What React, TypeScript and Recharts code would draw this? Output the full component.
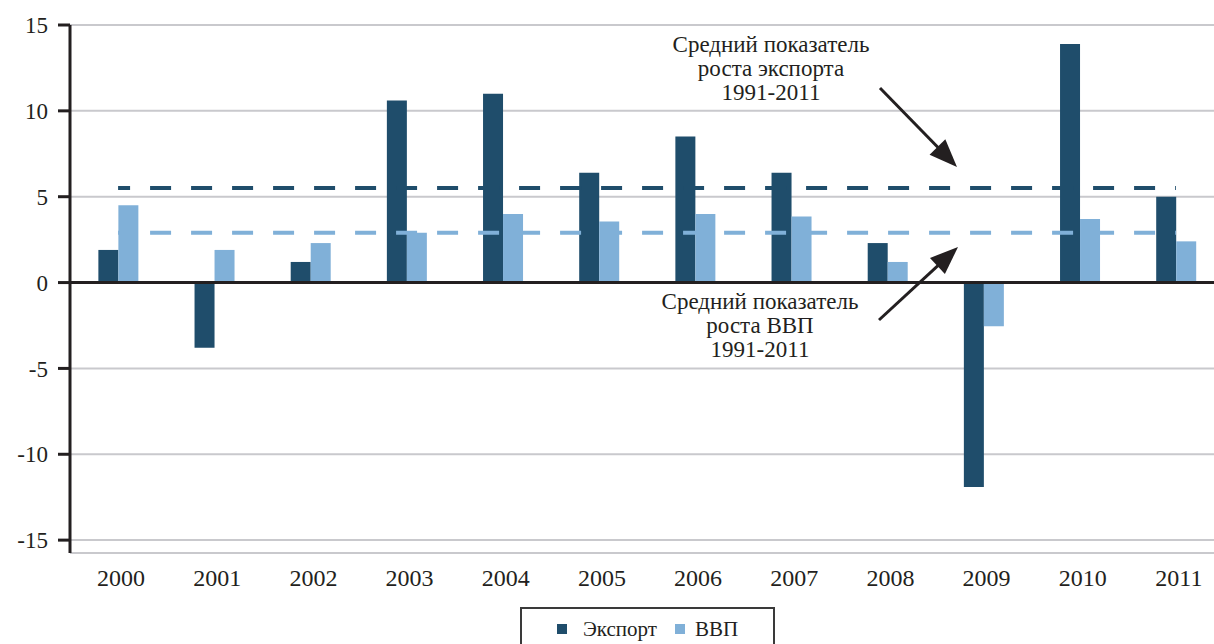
import { BarChart, Bar, XAxis, YAxis, CartesianGrid, ReferenceLine } from 'recharts';

// Годовой рост, %
const years = ['2000', '2001', '2002', '2003', '2004', '2005', '2006', '2007', '2008', '2009', '2010', '2011'];
const exportGrowth = [1.9, -3.8, 1.2, 10.6, 11.0, 6.4, 8.5, 6.4, 2.3, -11.9, 13.9, 5.0];
const gdpGrowth = [4.5, 1.9, 2.3, 2.9, 4.0, 3.55, 4.0, 3.85, 1.2, -2.55, 3.7, 2.4];
const yTicks = [-15, -10, -5, 0, 5, 10, 15];

// средние 1991-2011
const exportAvg = 5.5;
const gdpAvg = 2.9;

const DARK = '#1f4d6b';
const LIGHT = '#80b0d8';
const INK = '#231f20';
const FONT = "'Liberation Serif', Tinos, 'Times New Roman', 'DejaVu Serif', serif";

const data = years.map((y, i) => ({ year: y, export: exportGrowth[i], gdp: gdpGrowth[i] }));

const XTick = (props: any) => (
  <text x={props.x + 3} y={props.y + 33} textAnchor="middle" style={{ fontFamily: FONT }} fontSize={24} fill={INK}>
    {props.payload.value}
  </text>
);

// стрелка с залитым наконечником
const Arrow = ({ x1, y1, x2, y2 }: { x1: number; y1: number; x2: number; y2: number }) => {
  const len = Math.hypot(x2 - x1, y2 - y1);
  const dx = (x2 - x1) / len;
  const dy = (y2 - y1) / len;
  const head = 28;
  const half = 11;
  const bx = x2 - dx * head;
  const by = y2 - dy * head;
  const pts = `${x2},${y2} ${bx - dy * half},${by + dx * half} ${bx + dy * half},${by - dx * half}`;
  return (
    <g>
      <line x1={x1} y1={y1} x2={bx + dx * 4} y2={by + dy * 4} stroke={INK} strokeWidth={3} />
      <polygon points={pts} fill={INK} />
    </g>
  );
};

const Note = ({ x, y, lines }: { x: number; y: number; lines: string[] }) => (
  <text textAnchor="middle" style={{ fontFamily: FONT }} fontSize={23} fill={INK}>
    {lines.map((l, i) => (
      <tspan key={i} x={x} y={y + i * 24}>{l}</tspan>
    ))}
  </text>
);

export default function App() {
  return (
    <div style={{ position: 'absolute', left: 0, top: 0, width: 1214, height: 644, overflow: 'hidden', background: '#fff', fontFamily: FONT }}>
      <BarChart
        width={1240}
        height={644}
        data={data}
        margin={{ top: 25, right: 16, bottom: 51, left: 0 }}
        barCategoryGap="29.5%"
        barGap={0}
      >
        <CartesianGrid vertical={false} stroke="#c9c9cd" strokeWidth={2} />
        <XAxis dataKey="year" axisLine={false} tickLine={false} tickSize={0} tickMargin={0} height={40} tick={XTick} interval={0} />
        <YAxis
          domain={[-15.75, 15]}
          ticks={yTicks}
          width={70}
          tickSize={12}
          tickMargin={10}
          axisLine={{ stroke: INK, strokeWidth: 3 }}
          tickLine={{ stroke: INK, strokeWidth: 3 }}
          tick={{ style: { fontFamily: FONT }, fontSize: 23, fill: INK }}
          allowDataOverflow
        />
        <Bar dataKey="export" name="Экспорт" fill={DARK} isAnimationActive={false} />
        <Bar dataKey="gdp" name="ВВП" fill={LIGHT} isAnimationActive={false} />
        <ReferenceLine y={0} stroke={INK} strokeWidth={3} />
        <ReferenceLine
          segment={[{ x: years[0], y: exportAvg }, { x: years[years.length - 1], y: exportAvg }]}
          stroke={DARK}
          strokeWidth={4}
          strokeDasharray="21 20"
          strokeDashoffset={9}
        />
        <ReferenceLine
          segment={[{ x: years[0], y: gdpAvg }, { x: years[years.length - 1], y: gdpAvg }]}
          stroke={LIGHT}
          strokeWidth={4}
          strokeDasharray="21 20"
          strokeDashoffset={9}
        />
      </BarChart>

      <svg width={1214} height={644} style={{ position: 'absolute', left: 0, top: 0, pointerEvents: 'none' }}>
        <Note x={771} y={52} lines={['Средний показатель', 'роста экспорта', '1991-2011']} />
        <Note x={760} y={309} lines={['Средний показатель', 'роста ВВП', '1991-2011']} />
        <Arrow x1={880} y1={88} x2={957} y2={167} />
        <Arrow x1={879} y1={320} x2={958} y2={247} />
      </svg>

      <div
        style={{
          position: 'absolute',
          left: 520,
          top: 607,
          width: 255,
          height: 37,
          boxSizing: 'border-box',
          border: '2px solid #3a3a3a',
          borderBottom: 'none',
          display: 'flex',
          justifyContent: 'center',
          paddingTop: 4,
          fontSize: 21,
          lineHeight: '24px',
          color: INK,
        }}
      >
        <span style={{ display: 'flex', alignItems: 'center' }}>
          <span style={{ width: 10, height: 10, background: DARK, marginRight: 16 }} />
          Экспорт
        </span>
        <span style={{ display: 'flex', alignItems: 'center', marginLeft: 18 }}>
          <span style={{ width: 10, height: 10, background: LIGHT, marginRight: 10 }} />
          ВВП
        </span>
      </div>
    </div>
  );
}
